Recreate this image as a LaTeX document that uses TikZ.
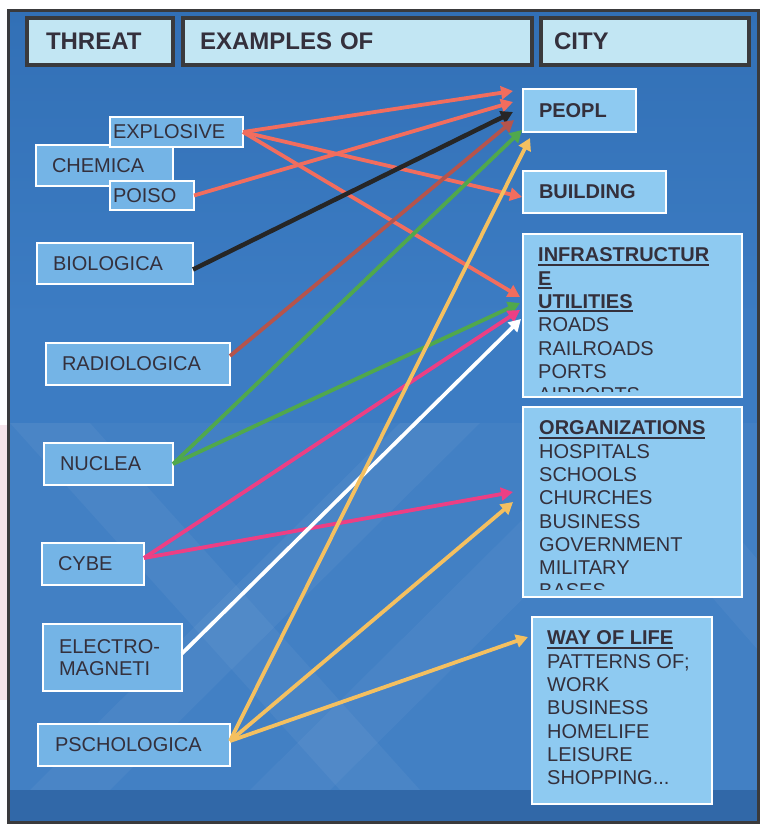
\documentclass[tikz,border=0pt]{standalone}
\usepackage{fontspec}
\setmainfont{Liberation Sans}
\usetikzlibrary{arrows.meta}

\definecolor{bgblue}{HTML}{3C7CC3}
\definecolor{topblue}{HTML}{3270B6}
\definecolor{lowblue}{HTML}{3168A8}
\definecolor{framegray}{HTML}{3A3A3C}
\definecolor{headfill}{HTML}{C2E6F3}
\definecolor{boxblue}{HTML}{74B4E6}
\definecolor{listblue}{HTML}{8ECAF1}
\definecolor{ink}{HTML}{34303C}
\definecolor{coral}{HTML}{F26D5E}
\definecolor{rust}{HTML}{B5544C}
\definecolor{leaf}{HTML}{50A84C}
\definecolor{amber}{HTML}{F4C060}
\definecolor{rose}{HTML}{EC3F84}
\definecolor{edgepink}{HTML}{F5E4EA}

% bold title with a heavy rule under it
\newcommand{\titleline}[1]{\setbox0\hbox{\bfseries #1}\rlap{\rule[-4pt]{\wd0}{2pt}}\box0}

\tikzset{
  head/.style={draw=framegray, line width=4pt, fill=headfill, text=ink,
    font=\bfseries\fontsize{24}{26}\selectfont, anchor=north west,
    minimum height=47pt, inner ysep=0pt, outer sep=0pt, align=left},
  threat/.style={draw=white, line width=2.5pt, fill=boxblue, text=ink,
    font=\fontsize{20}{22}\selectfont, anchor=north west,
    inner ysep=0pt, outer sep=0pt, align=left},
  target/.style={threat, fill=listblue, font=\bfseries\fontsize{20}{22}\selectfont},
  listbox/.style={draw=white, line width=2.5pt, fill=listblue,
    anchor=north west, inner sep=0pt, outer sep=0pt},
  listtext/.style={text=ink, font=\fontsize{20}{23.3}\selectfont,
    anchor=north west, align=left, inner sep=0pt},
  link/.style={line width=3.8pt, -{Triangle[length=12pt,width=13pt]}},
}

\begin{document}
\begin{tikzpicture}[x=1pt, y=-1pt]
\useasboundingbox (0,0) rectangle (764,827);

% panel background
\fill[edgepink] (0,425) rectangle (7,700);
\shade[top color=topblue, bottom color=bgblue] (8,10) rectangle (758,320);
\fill[bgblue] (8,319) rectangle (758,790);
\fill[lowblue] (8,790) rectangle (758,822);
\begin{scope}
  \clip (8,423) rectangle (758,790);
  \fill[white, opacity=0.03] (8,423) rectangle (758,790);
  \fill[white, opacity=0.045] (10,423) -- (90,423) -- (420,790) -- (340,790) -- cycle;
  \fill[white, opacity=0.045] (30,790) -- (110,790) -- (480,423) -- (400,423) -- cycle;
  \fill[white, opacity=0.04] (250,790) -- (330,790) -- (700,423) -- (620,423) -- cycle;
  \fill[white, opacity=0.04] (560,423) -- (640,423) -- (758,560) -- (758,650) -- cycle;
\end{scope}
\draw[framegray, line width=3pt] (8,10) rectangle (758,822);

% column heads
\node[head, text width=108pt, inner xsep=19pt] (threathead) at (27,18) {THREAT};
\node[head, text width=315pt, inner xsep=17pt] (examplehead) at (183,18) {EXAMPLES OF};
\node[head, text width=182pt, inner xsep=13pt] (cityhead) at (541,18) {CITY};

% threats
\node[threat, text width=105pt, inner xsep=16pt, minimum height=41pt] (chemica) at (36,145) {CHEMICA};
\node[threat, text width=127pt, inner xsep=3pt, minimum height=30pt] (explosive) at (110,117) {EXPLOSIVE};
\node[threat, text width=78pt, inner xsep=3pt, minimum height=29pt] (poiso) at (110,181) {POISO};
\node[threat, text width=124pt, inner xsep=16pt, minimum height=41pt] (biologica) at (37,243) {BIOLOGICA};
\node[threat, text width=152pt, inner xsep=16pt, minimum height=42pt] (radiologica) at (46,343) {RADIOLOGICA};
\node[threat, text width=97pt, inner xsep=16pt, minimum height=42pt] (nuclea) at (44,443) {NUCLEA};
\node[threat, text width=70pt, inner xsep=16pt, minimum height=42pt] (cybe) at (42,543) {CYBE};
\node[threat, text width=107pt, inner xsep=16pt, minimum height=67pt] (electro) at (43,624) {ELECTRO-\\MAGNETI};
\node[threat, text width=158pt, inner xsep=17pt, minimum height=42pt] (pschologica) at (38,724) {PSCHOLOGICA};

% city targets
\node[target, text width=81pt, inner xsep=16pt, minimum height=43pt] (peopl) at (523,89) {PEOPL};
\node[target, text width=111pt, inner xsep=16pt, minimum height=42pt] (building) at (523,171) {BUILDING};

\node[listbox, minimum width=219pt, minimum height=163pt] (infra) at (523,234) {};
\begin{scope}
  \clip (infra.north west) rectangle ([yshift=6pt]infra.south east);
  \node[listtext] (infratext) at (538,247.7) {\titleline{INFRASTRUCTUR}\\\titleline{E}\\\titleline{UTILITIES}\\ROADS\\RAILROADS\\PORTS\\AIRPORTS};
\end{scope}

\node[listbox, minimum width=219pt, minimum height=190pt] (orgs) at (523,407) {};
\begin{scope}
  \clip (orgs.north west) rectangle ([yshift=8pt]orgs.south east);
  \node[listtext] (orgstext) at (539,420.7) {\titleline{ORGANIZATIONS}\\HOSPITALS\\SCHOOLS\\CHURCHES\\BUSINESS\\GOVERNMENT\\MILITARY\\BASES};
\end{scope}

\node[listbox, minimum width=180pt, minimum height=187pt] (life) at (532,617) {};
\node[listtext] (lifetext) at (547,630.7) {\titleline{WAY OF LIFE}\\PATTERNS OF;\\WORK\\BUSINESS\\HOMELIFE\\LEISURE\\SHOPPING...};

% links
\draw[link, coral] (explosive.east) -- ([xshift=-10pt,yshift=-2pt]peopl.north west);
\draw[link, coral] (poiso.east) -- ([xshift=-10pt,yshift=-13pt]peopl.north west);
\draw[link, coral] (explosive.east) -- ([xshift=-1pt,yshift=-5pt]building.west);
\draw[link, coral] (explosive.east) -- ([xshift=-3pt,yshift=-63pt]infra.north west);
\draw[link, black!85, line width=4.5pt] ([yshift=-6pt]biologica.east) -- ([xshift=-10pt,yshift=-23pt]peopl.north west);
\draw[link, rust] ([yshift=8pt]radiologica.east) -- ([xshift=-9pt,yshift=-31pt]peopl.north west);
\draw[link, leaf] (nuclea.east) -- ([xshift=-1pt,yshift=-41pt]peopl.north west);
\draw[link, leaf] (nuclea.east) -- ([xshift=-3pt,yshift=-69pt]infra.north west);
\draw[link, rose] ([yshift=6pt]cybe.east) -- ([xshift=-3pt,yshift=-76pt]infra.north west);
\draw[link, rose] ([yshift=6pt]cybe.east) -- ([xshift=-10pt,yshift=-85pt]orgs.north west);
\draw[link, white] ([yshift=4pt]electro.east) -- ([xshift=-2pt,yshift=-85pt]infra.north west);
\draw[link, amber] ([yshift=4pt]pschologica.east) -- ([xshift=7pt,yshift=-49pt]peopl.north west);
\draw[link, amber] ([yshift=4pt]pschologica.east) -- ([xshift=-10pt,yshift=-95pt]orgs.north west);
\draw[link, amber] ([yshift=4pt]pschologica.east) -- ([xshift=-4pt,yshift=-20pt]life.north west);
\end{tikzpicture}
\end{document}
